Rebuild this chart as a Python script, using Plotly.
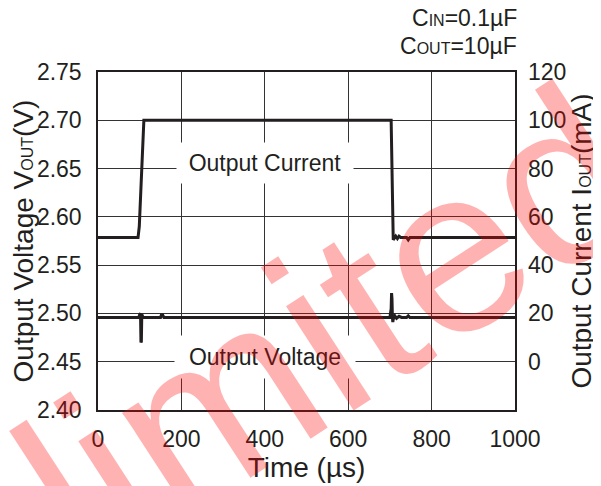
import plotly.graph_objects as go

# ---- data ----
time_current = [0, 96, 99, 103, 110, 703, 705, 708, 710, 714, 718, 722, 726, 740, 744, 748, 1000]
current_ma = [51.5, 51.5, 56, 72, 100, 100, 80, 50.5, 51.0, 52.0, 51.0, 52.0, 51.5, 51.5, 50.5, 51.5, 51.5]

time_voltage = [0, 98, 100, 102, 103, 104, 105, 106, 108, 112, 150, 152, 155, 158, 700, 703, 704, 705,
                706, 707, 708, 712, 716, 722, 728, 740, 744, 748, 1000]
voltage_v = [2.4958, 2.4958, 2.4990, 2.5000, 2.4700, 2.4710, 2.4990, 2.4975, 2.4960, 2.4958, 2.4958,
             2.4985, 2.4985, 2.4958, 2.4958, 2.5050, 2.5210, 2.5150, 2.4960, 2.4910, 2.4940, 2.4975,
             2.4950, 2.4970, 2.4958, 2.4958, 2.4975, 2.4958, 2.4958]

x_ticks = [0, 200, 400, 600, 800, 1000]
y_ticks = [2.40, 2.45, 2.50, 2.55, 2.60, 2.65, 2.70, 2.75]
y2_ticks = [0, 20, 40, 60, 80, 100, 120]

FONT = "Liberation Sans, Arial, Helvetica, sans-serif"
INK = "#231f20"
GRID = "#333333"

fig = go.Figure()
fig.add_trace(go.Scatter(x=time_current, y=current_ma, yaxis="y2", mode="lines",
                         line=dict(color=INK, width=3), showlegend=False, hoverinfo="skip"))
fig.add_trace(go.Scatter(x=time_voltage, y=voltage_v, yaxis="y", mode="lines",
                         line=dict(color=INK, width=3), showlegend=False, hoverinfo="skip"))

small = "<span style='font-size:16px'>{}</span>"

# the page adds an 8px body margin, so the figure is sized to fill the rest of the window
fig.update_layout(
    width=593, height=478,
    margin=dict(l=90, r=86, t=64, b=76, autoexpand=False),
    paper_bgcolor="white", plot_bgcolor="white",
    font=dict(family=FONT, size=23, color=INK),
    xaxis=dict(range=[0, 1000], tickvals=x_ticks, ticks="", showgrid=True, gridcolor=GRID, gridwidth=1.3,
               showline=True, linecolor=INK, linewidth=1.5, mirror=True, zeroline=False,
               ticklabelstandoff=8, automargin=False,
               title=dict(text="Time (µs)", standoff=4)),
    yaxis=dict(range=[2.40, 2.75], tickvals=y_ticks, tickformat=".2f", ticks="", showgrid=True,
               gridcolor=GRID, gridwidth=1.3, showline=True, linecolor=INK, linewidth=1.5, mirror=True,
               zeroline=False, ticklabelstandoff=10, automargin=False,
               title=dict(text="Output Voltage V" + small.format("OUT") + "(V)", standoff=2)),
    yaxis2=dict(range=[-20, 120], tickvals=y2_ticks, overlaying="y", side="right", ticks="",
                showgrid=False, zeroline=False, showline=False, ticklabelstandoff=12, automargin=False,
                title=dict(text="Output Current I" + small.format("OUT") + "(mA)", standoff=2)),
)

annotations = [
    dict(x=400, y=2.6555, xref="x", yref="y", text="Output Current", showarrow=False,
         bgcolor="white", width=176, height=40, borderpad=0),
    dict(x=400, y=2.4545, xref="x", yref="y", text="Output Voltage", showarrow=False,
         bgcolor="white", width=180, height=42, borderpad=0),
    dict(x=1.010, y=1.160, xref="paper", yref="paper", xanchor="right", yanchor="middle",
         text="C" + small.format("IN") + "=0.1µF", showarrow=False),
    dict(x=1.010, y=1.077, xref="paper", yref="paper", xanchor="right", yanchor="middle",
         text="C" + small.format("OUT") + "=10µF", showarrow=False),
    # red watermark
    dict(x=0.554, y=0.237, xref="paper", yref="paper", xanchor="center", yanchor="middle",
         text="limited", showarrow=False, textangle=-33,
         font=dict(size=235, color="rgba(255,0,0,0.3)", family=FONT)),
]
fig.update_layout(annotations=annotations)

fig.write_html("out.html")
